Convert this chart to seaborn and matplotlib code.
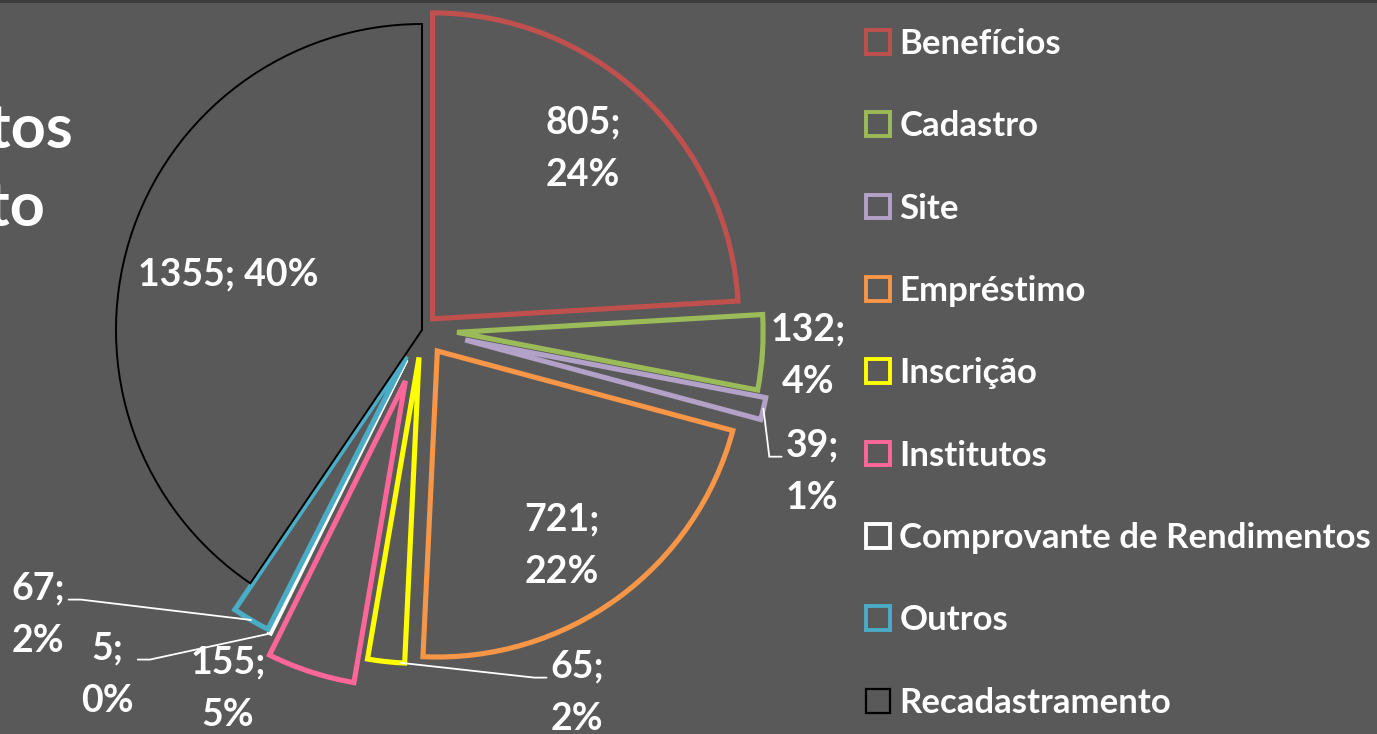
import numpy as np
import pandas as pd
from matplotlib import pyplot as plt
from matplotlib.patches import Patch, Rectangle
import seaborn as sns

categories = [
    "Benefícios",
    "Cadastro",
    "Site",
    "Empréstimo",
    "Inscrição",
    "Institutos",
    "Comprovante de Rendimentos",
    "Outros",
    "Recadastramento",
]
counts = [805, 132, 39, 721, 65, 155, 5, 67, 1355]
pct_labels = ["24%", "4%", "1%", "22%", "2%", "5%", "0%", "2%", "40%"]
edge_colors = ["#C0504D", "#9BBB59", "#B3A2C7", "#F79646", "#FFFF00",
               "#FF6699", "#FFFFFF", "#4BACC6", "#000000"]
explode = [0.05, 0.115, 0.145, 0.085, 0.09, 0.175, 0.11, 0.10, 0.0]

df = pd.DataFrame({"categoria": categories, "total": counts, "pct": pct_labels})

bg = "#595959"
sns.set_theme(style="dark", rc={"axes.facecolor": bg, "figure.facecolor": bg})
plt.rcParams["font.family"] = ["Lato", "DejaVu Sans"]
palette = sns.color_palette(edge_colors)

W, H = 1377, 734
R = 306.0          # pie radius in pixels
cx, cy = 422, 330  # pie centre in pixels (from top-left)

fig = plt.figure(figsize=(W / 100, H / 100), dpi=100)
ax = fig.add_axes([0, 0, 1, 1])

wedges, _ = ax.pie(
    df["total"],
    explode=explode,
    startangle=90,
    counterclock=False,
    radius=1,
    center=(0, 0),
    colors=[bg] * len(df),
    frame=True,
)
ax.set_xlim(-cx / R, (W - cx) / R)
ax.set_ylim(-(H - cy) / R, cy / R)
ax.set_aspect("auto")
ax.axis("off")

widths = [3.7, 3.7, 3.7, 3.7, 3.7, 3.7, 2.2, 3.7, 1.4]
for w, c, lw in zip(wedges, palette, widths):
    w.set_edgecolor(c)
    w.set_linewidth(lw)
    w.set_joinstyle("miter")

# data label layout (axes data units, radius = 1)
label_pos = [(0.526, 0.592), (1.262, -0.085), (1.275, -0.464), (0.458, -0.706),
             (0.507, -1.186), (-0.634, -1.173), (-1.029, -1.127),
             (-1.255, -0.931), (-0.634, 0.18)]
leader_frac = [None, None, 0.5, None, 0.9, None, 0.5, 0.5, None]

for i, row in df.iterrows():
    lx, ly = label_pos[i]
    if row["categoria"] == "Recadastramento":
        txt = f"{row['total']}; {row['pct']}"
    else:
        txt = f"{row['total']};\n{row['pct']}"
    ax.text(lx, ly, txt, ha="center", va="center", color="white",
            fontsize=27, fontweight="bold", linespacing=1.65)

    if leader_frac[i] is not None:
        w = wedges[i]
        th = np.deg2rad(w.theta1 + leader_frac[i] * (w.theta2 - w.theta1))
        ax0 = w.center[0] + w.r * np.cos(th)
        ay0 = w.center[1] + w.r * np.sin(th)
        side = 1 if lx < ax0 else -1
        ex, ey = lx + side * 0.10, ly + 0.05
        elbow = ex + side * 0.04
        ax.plot([ax0, elbow, ex], [ay0, ey, ey], color="white", lw=1.3,
                solid_joinstyle="miter")

# legend
handles = []
for c, lw in zip(palette, widths):
    handles.append(Patch(facecolor=bg, edgecolor=c,
                         linewidth=2.8 if lw > 1.5 else 1.6))
leg = ax.legend(handles, categories, loc="upper left",
                bbox_to_anchor=(866 / W, 1 - 28 / H),
                bbox_transform=fig.transFigure, frameon=False,
                fontsize=25, handlelength=0.68, handleheight=0.68,
                handletextpad=0.28, labelspacing=1.45, borderpad=0,
                borderaxespad=0)
for t in leg.get_texts():
    t.set_color("white")
    t.set_fontweight("bold")

# title fragments cut off at the left edge, as in the original
fig.text(73 / W, 1 - 148 / H, "tos", ha="right", va="baseline",
         color="white", fontsize=44, fontweight="bold")
fig.text(45 / W, 1 - 226 / H, "to", ha="right", va="baseline",
         color="white", fontsize=44, fontweight="bold")

fig.add_artist(Rectangle((0, 1 - 3 / H), 1, 3 / H, transform=fig.transFigure,
                         facecolor="#3c3c3c", edgecolor="none"))

fig.savefig("out.png", dpi=100, facecolor=bg)
